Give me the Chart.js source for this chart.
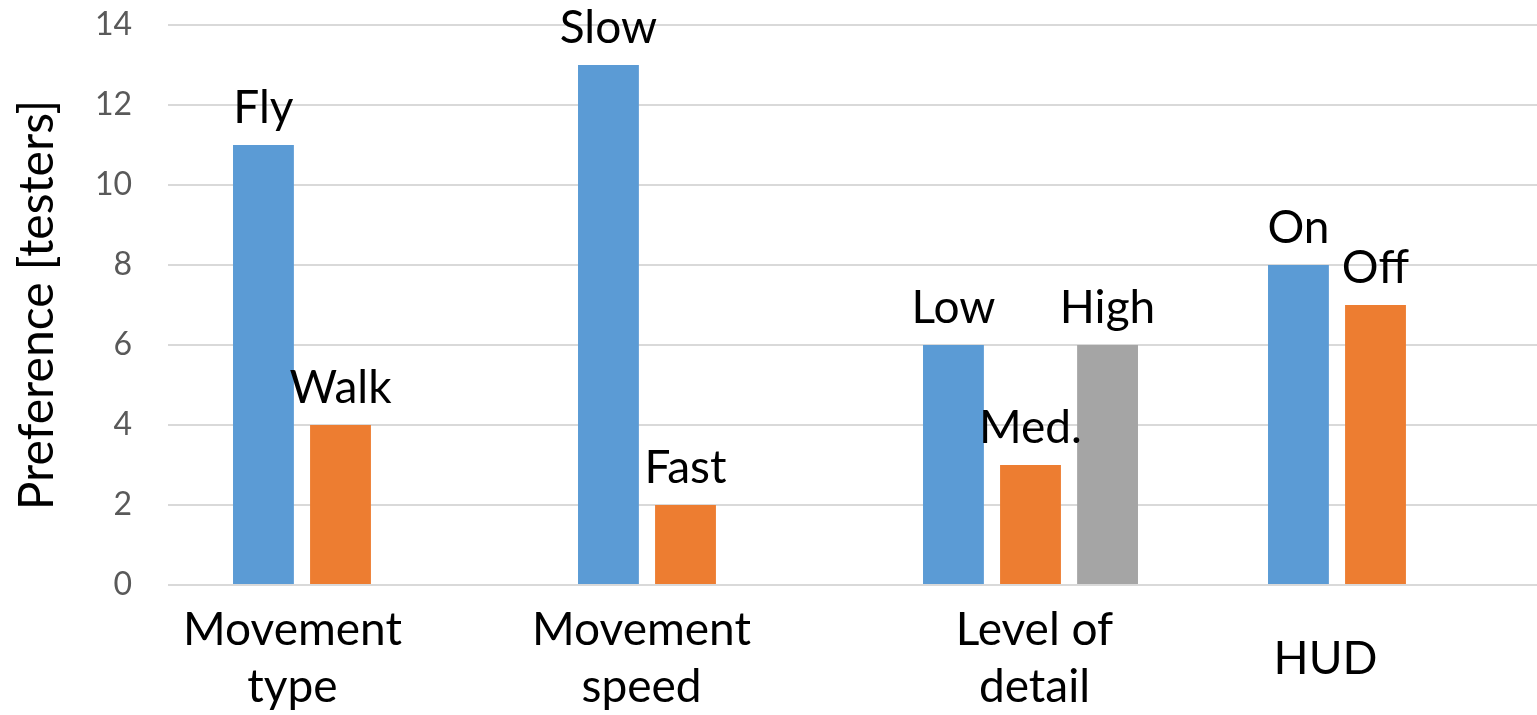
<!DOCTYPE html>
<html>
<head>
<meta charset="utf-8">
<script src="https://cdn.jsdelivr.net/npm/chart.js@4"></script>
<style>
  html, body { margin: 0; padding: 0; background: #fff; overflow: hidden; }
  #wrap { width: 1548px; height: 715px; }
</style>
</head>
<body>
<div id="wrap"><canvas id="chart"></canvas></div>
<script>
const categories = [
    ['Movement', 'type'],
    ['Movement', 'speed'],
    ['Level of', 'detail'],
    'HUD'
];

// first, second and third option of each question
const firstValues = [11, 13, 6, 8];
const secondValues = [4, 2, 3, 7];
const thirdValues = [null, null, 6, null];

const firstLabels = ['Fly', 'Slow', 'Low', 'On'];
const secondLabels = ['Walk', 'Fast', 'Med.', 'Off'];
const thirdLabels = [null, null, 'High', null];

const yTicks = [0, 2, 4, 6, 8, 10, 12, 14];

const FONT = 'Lato';

// names over each bar
const barLabels = {
    id: 'barLabels',
    afterDatasetsDraw(chart) {
        const ctx = chart.ctx;
        ctx.save();
        ctx.font = `46px ${FONT}`;
        ctx.fillStyle = '#000';
        ctx.textAlign = 'center';
        ctx.textBaseline = 'alphabetic';
        chart.data.datasets.forEach((ds, i) => {
            const meta = chart.getDatasetMeta(i);
            meta.data.forEach((bar, j) => {
                const text = ds.barLabels[j];
                if (!text || ds.data[j] == null) return;
                ctx.fillText(text, bar.x, bar.y - 22);
            });
        });
        ctx.restore();
    }
};

// category names; the original sits them a bit left of the group centre
const categoryLabels = {
    id: 'categoryLabels',
    afterDraw(chart) {
        const x = chart.scales.x;
        const ctx = chart.ctx;
        const nudge = [-48, -44, 4, -50];
        const lh = 57;
        ctx.save();
        ctx.font = `46px ${FONT}`;
        ctx.fillStyle = '#000';
        ctx.textAlign = 'center';
        ctx.textBaseline = 'alphabetic';
        chart.data.labels.forEach((label, i) => {
            const lines = Array.isArray(label) ? label : [label];
            const cx = x.getPixelForValue(i) + nudge[i];
            const base = x.top + 60 + (2 - lines.length) * lh / 2;
            lines.forEach((line, k) => ctx.fillText(line, cx, base + k * lh));
        });
        ctx.restore();
    }
};

function setup() {
    const ctx = document.getElementById('chart').getContext('2d');
    new Chart(ctx, {
        type: 'bar',
        data: {
            labels: categories,
            datasets: [
                { data: firstValues, barLabels: firstLabels, backgroundColor: '#5B9BD5' },
                { data: secondValues, barLabels: secondLabels, backgroundColor: '#ED7D31' },
                { data: thirdValues, barLabels: thirdLabels, backgroundColor: '#A5A5A5' }
            ]
        },
        options: {
            responsive: true,
            maintainAspectRatio: false,
            animation: false,
            categoryPercentage: 0.67,
            barPercentage: 0.79,
            layout: { padding: { top: 25, left: 0, right: 0, bottom: 0 } },
            plugins: {
                legend: { display: false },
                tooltip: { enabled: false }
            },
            scales: {
                x: {
                    grid: { display: false },
                    border: { display: false },
                    ticks: { display: false },
                    afterFit(scale) { scale.height = 130; }
                },
                y: {
                    min: 0,
                    max: 14,
                    afterBuildTicks(scale) { scale.ticks = yTicks.map(v => ({ value: v })); },
                    grid: { color: '#D9D9D9', lineWidth: 2, drawTicks: false },
                    border: { display: false },
                    ticks: {
                        color: '#595959',
                        font: { family: FONT, size: 32 },
                        padding: 36
                    },
                    title: {
                        display: true,
                        text: 'Preference [testers]',
                        color: '#000',
                        font: { family: FONT, size: 48 },
                        padding: { top: 9, bottom: 0 }
                    },
                    afterFit(scale) {
                        scale.width = 168;
                        scale.paddingTop = 0;
                        scale.paddingBottom = 0;
                    }
                }
            }
        },
        plugins: [barLabels, categoryLabels]
    });
}

window.onload = setup;
</script>
</body>
</html>
